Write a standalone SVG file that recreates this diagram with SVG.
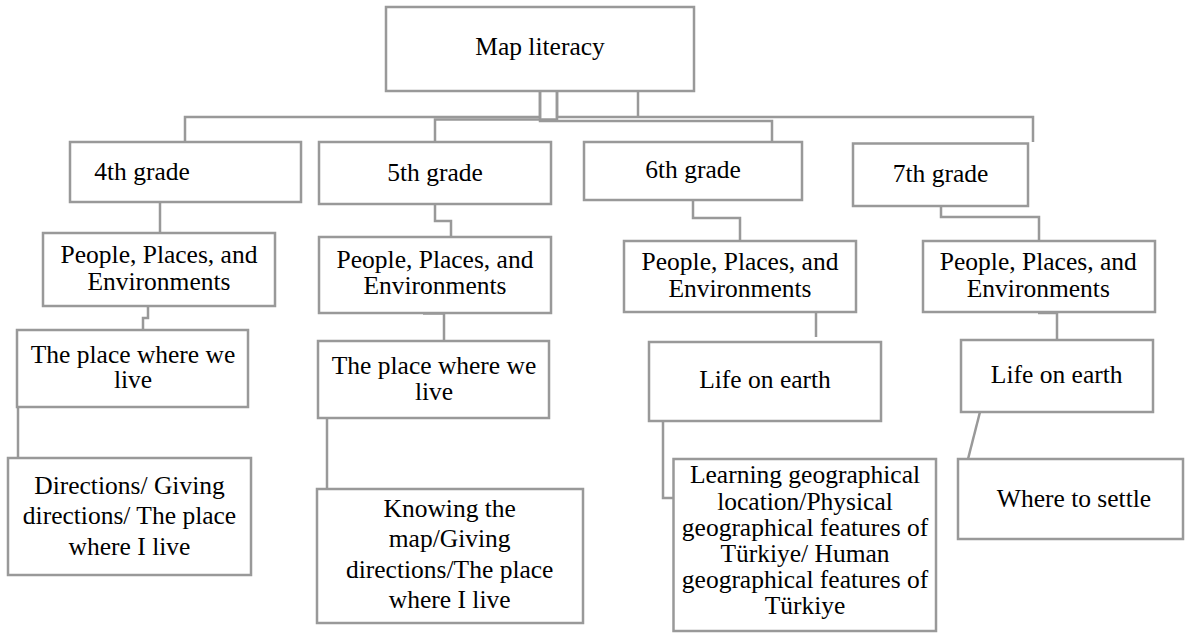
<svg xmlns="http://www.w3.org/2000/svg" width="1185" height="633" viewBox="0 0 1185 633">
  <style>
    .box { fill: #ffffff; stroke: #999999; stroke-width: 2.5; }
    .wire { fill: none; stroke: #999999; stroke-width: 2.5; }
  </style>
  <rect width="1185" height="633" fill="#ffffff"/>

  <!-- connectors -->
  <g id="connectors">
    <path class="wire" d="M540,91 V117 H185 V142"/>
    <path class="wire" d="M557,91 V119.5 H435 V142"/>
    <path class="wire" d="M540,91 V121 H772 V142"/>
    <path class="wire" d="M557,91 V117 H1033 V142"/>
    <path class="wire" d="M638,91 V117"/>
    <path class="wire" d="M160,202 V233"/>
    <path class="wire" d="M148,306 V318 H143 V330"/>
    <path class="wire" d="M18,407 V458"/>
    <path class="wire" d="M435,204 V221 H451 V237"/>
    <path class="wire" d="M423,313.5 H444 V341"/>
    <path class="wire" d="M327,418 V489"/>
    <path class="wire" d="M693,200 V218 H740 V241"/>
    <path class="wire" d="M816,312 V337"/>
    <path class="wire" d="M663,421 V498 H674"/>
    <path class="wire" d="M941,206 V217 H1039 V241"/>
    <path class="wire" d="M1038,313 H1057 V340"/>
    <path class="wire" d="M980,412 L968,459"/>
  </g>

  <g id="map-literacy">
    <rect class="box" x="386" y="7" width="308" height="84"/>
    <text x="540" y="55" font-family="Liberation Serif" font-size="25.5" text-anchor="middle">Map literacy</text>
  </g>

  <g id="grade-4">
    <rect class="box" x="70" y="142" width="231" height="60"/>
    <text x="142" y="180" font-family="Liberation Serif" font-size="25.5" text-anchor="middle">4th grade</text>
  </g>
  <g id="grade-5">
    <rect class="box" x="319" y="142" width="232" height="62"/>
    <text x="435" y="180.7" font-family="Liberation Serif" font-size="25.5" text-anchor="middle">5th grade</text>
  </g>
  <g id="grade-6">
    <rect class="box" x="584" y="142" width="218" height="58"/>
    <text x="693" y="178.3" font-family="Liberation Serif" font-size="25.5" text-anchor="middle">6th grade</text>
  </g>
  <g id="grade-7">
    <rect class="box" x="853" y="143.5" width="175" height="62.5"/>
    <text x="940.5" y="181.7" font-family="Liberation Serif" font-size="25.5" text-anchor="middle">7th grade</text>
  </g>

  <g id="ppe-4">
    <rect class="box" x="43" y="233" width="232" height="73"/>
    <text font-family="Liberation Serif" font-size="25.5" text-anchor="middle"><tspan x="159" y="263">People, Places, and</tspan><tspan x="159" y="290">Environments</tspan></text>
  </g>
  <g id="ppe-5">
    <rect class="box" x="319" y="237" width="232" height="76"/>
    <text font-family="Liberation Serif" font-size="25.5" text-anchor="middle"><tspan x="435" y="268.3">People, Places, and</tspan><tspan x="435" y="294">Environments</tspan></text>
  </g>
  <g id="ppe-6">
    <rect class="box" x="624" y="241" width="232" height="71"/>
    <text font-family="Liberation Serif" font-size="25.5" text-anchor="middle"><tspan x="740" y="270">People, Places, and</tspan><tspan x="740" y="296.7">Environments</tspan></text>
  </g>
  <g id="ppe-7">
    <rect class="box" x="923" y="241" width="232" height="71"/>
    <text font-family="Liberation Serif" font-size="25.5" text-anchor="middle"><tspan x="1038.3" y="270">People, Places, and</tspan><tspan x="1038.3" y="296.7">Environments</tspan></text>
  </g>

  <g id="place-4">
    <rect class="box" x="17" y="330" width="231" height="77"/>
    <text font-family="Liberation Serif" font-size="25.5" text-anchor="middle"><tspan x="133" y="363.3">The place where we</tspan><tspan x="133" y="388">live</tspan></text>
  </g>
  <g id="place-5">
    <rect class="box" x="318" y="341" width="231" height="77"/>
    <text font-family="Liberation Serif" font-size="25.5" text-anchor="middle"><tspan x="434" y="374">The place where we</tspan><tspan x="434" y="400">live</tspan></text>
  </g>
  <g id="life-6">
    <rect class="box" x="649" y="342" width="232" height="79"/>
    <text x="765" y="388.3" font-family="Liberation Serif" font-size="25.5" text-anchor="middle">Life on earth</text>
  </g>
  <g id="life-7">
    <rect class="box" x="961" y="340" width="192" height="72"/>
    <text x="1056.7" y="383.3" font-family="Liberation Serif" font-size="25.5" text-anchor="middle">Life on earth</text>
  </g>

  <g id="directions-4">
    <rect class="box" x="8" y="458" width="243" height="117"/>
    <text font-family="Liberation Serif" font-size="25.5" text-anchor="middle"><tspan x="129.5" y="493.7">Directions/ Giving</tspan><tspan x="129.5" y="524.3">directions/ The place</tspan><tspan x="129.5" y="555">where I live</tspan></text>
  </g>
  <g id="knowing-5">
    <rect class="box" x="317" y="489" width="266" height="134"/>
    <text font-family="Liberation Serif" font-size="25.5" text-anchor="middle"><tspan x="449.7" y="516.6">Knowing the</tspan><tspan x="449.7" y="547">map/Giving</tspan><tspan x="449.7" y="577.8">directions/The place</tspan><tspan x="449.7" y="608.4">where I live</tspan></text>
  </g>
  <g id="learning-6">
    <rect class="box" x="673.5" y="459" width="262.5" height="172"/>
    <text font-family="Liberation Serif" font-size="25.5" text-anchor="middle"><tspan x="805" y="483.3">Learning geographical</tspan><tspan x="805" y="510">location/Physical</tspan><tspan x="805" y="536">geographical features of</tspan><tspan x="805" y="561.7">Türkiye/ Human</tspan><tspan x="805" y="588.3">geographical features of</tspan><tspan x="805" y="614">Türkiye</tspan></text>
  </g>
  <g id="settle-7">
    <rect class="box" x="958" y="459" width="225" height="80"/>
    <text x="1074" y="506.5" font-family="Liberation Serif" font-size="25.5" text-anchor="middle">Where to settle</text>
  </g>
</svg>
